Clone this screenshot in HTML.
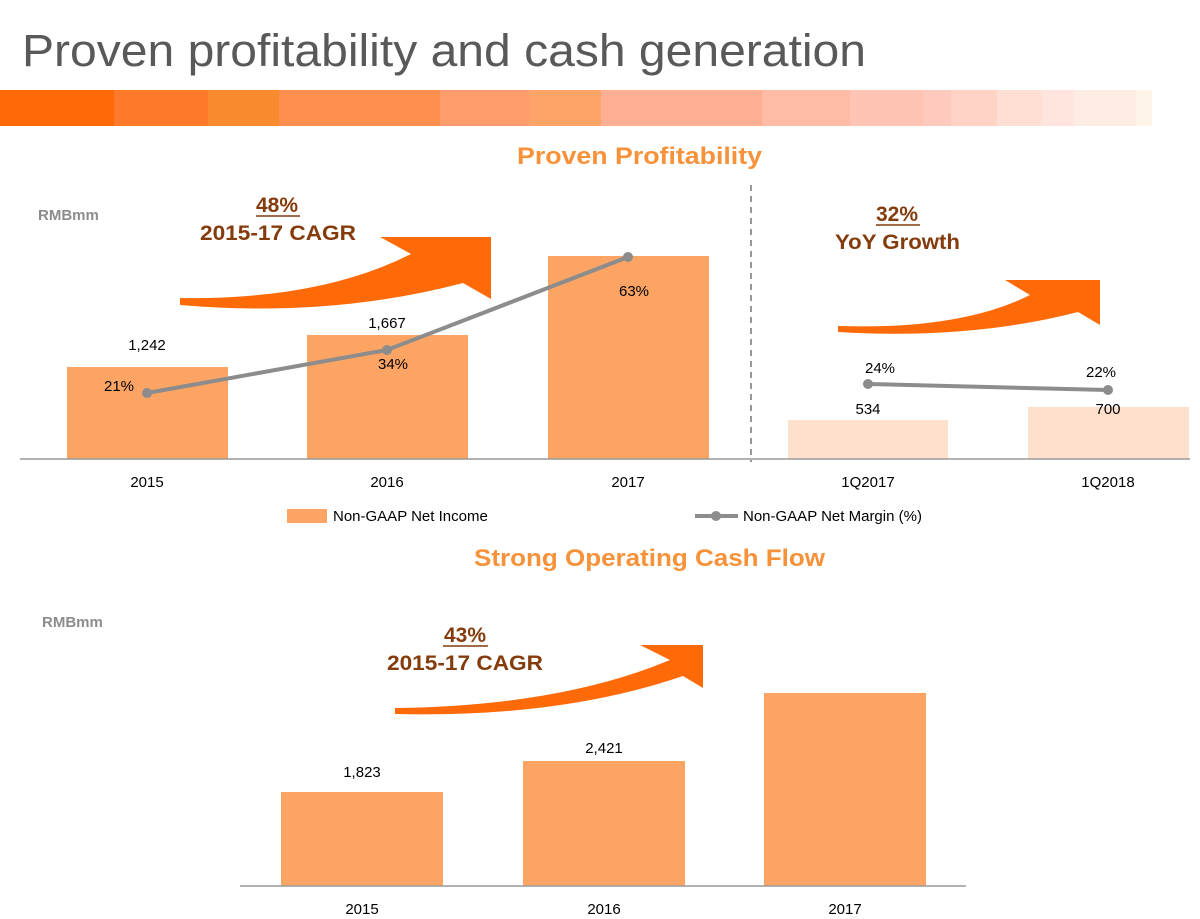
<!DOCTYPE html>
<html><head><style>
body{margin:0;background:#fff;}
svg{display:block;font-family:"Liberation Sans",sans-serif;}
</style></head><body>
<svg width="1200" height="919" viewBox="0 0 1200 919">
<text x="22" y="66" font-size="45" fill="#595959" textLength="844" lengthAdjust="spacingAndGlyphs">Proven profitability and cash generation</text>
<g>
<rect x="0" y="90" width="115" height="36" fill="#ff6a08"/>
<rect x="114" y="90" width="95" height="36" fill="#fe7a2a"/>
<rect x="208" y="90" width="72" height="36" fill="#f98a2e"/>
<rect x="279" y="90" width="162" height="36" fill="#ff8f4f"/>
<rect x="440" y="90" width="90" height="36" fill="#ff9c6c"/>
<rect x="529" y="90" width="73" height="36" fill="#fea468"/>
<rect x="601" y="90" width="162" height="36" fill="#ffaf91"/>
<rect x="762" y="90" width="89" height="36" fill="#ffbba5"/>
<rect x="850" y="90" width="74" height="36" fill="#ffc4b3"/>
<rect x="923" y="90" width="29" height="36" fill="#ffcabd"/>
<rect x="951" y="90" width="47" height="36" fill="#ffd4c7"/>
<rect x="997" y="90" width="46" height="36" fill="#ffdfd4"/>
<rect x="1042" y="90" width="33" height="36" fill="#ffe5dd"/>
<rect x="1074" y="90" width="63" height="36" fill="#feebe3"/>
<rect x="1136" y="90" width="16" height="36" fill="#fff4ea"/>
</g>
<text x="517" y="164" font-size="24" font-weight="bold" fill="#f7923a" textLength="245" lengthAdjust="spacingAndGlyphs">Proven Profitability</text>
<text x="38" y="220" font-size="15" font-weight="bold" fill="#8c8c8c">RMBmm</text>
<line x1="751" y1="185" x2="751" y2="462" stroke="#777" stroke-width="1.5" stroke-dasharray="6,5"/>
<path d="M180,298 Q320,300 411,254 L380,237 L491,237 L491,299 L463,283 Q330,318 180,305 Z" fill="#ff6a08"/>
<path d="M838,326 Q960,330 1030,295 L1005,280 L1100,280 L1100,325 L1078,312 Q970,340 838,332 Z" fill="#ff6a08"/>
<path d="M395,708 Q560,706 670,660 L640,645 L703,645 L703,688 L683,676 Q560,718 395,714 Z" fill="#ff6a08"/>
<g font-weight="bold" fill="#843c0c" font-size="21">
<text x="277" y="212" text-anchor="middle">48%</text><line x1="256" y1="216" x2="300" y2="216" stroke="#843c0c" stroke-width="1.5"/>
<text x="200" y="240" textLength="156" lengthAdjust="spacingAndGlyphs">2015-17 CAGR</text>
<text x="897" y="221" text-anchor="middle">32%</text><line x1="876" y1="225" x2="920" y2="225" stroke="#843c0c" stroke-width="1.5"/>
<text x="835" y="249" textLength="125" lengthAdjust="spacingAndGlyphs">YoY Growth</text>
<text x="465" y="642" text-anchor="middle">43%</text><line x1="443" y1="646" x2="488" y2="646" stroke="#843c0c" stroke-width="1.5"/>
<text x="387" y="670" textLength="156" lengthAdjust="spacingAndGlyphs">2015-17 CAGR</text>
</g>
<rect x="67" y="367" width="161" height="92" fill="#fca464"/>
<rect x="307" y="335" width="161" height="124" fill="#fca464"/>
<rect x="548" y="256" width="161" height="203" fill="#fca464"/>
<rect x="788" y="420" width="160" height="39" fill="#fde0cc"/>
<rect x="1028" y="407" width="161" height="52" fill="#fde0cc"/>
<line x1="20" y1="459" x2="1190" y2="459" stroke="#999" stroke-width="1.5"/>
<polyline points="147,393 387,350 628,257" fill="none" stroke="#8c8c8c" stroke-width="4"/>
<circle cx="147" cy="393" r="5" fill="#8c8c8c"/><circle cx="387" cy="350" r="5" fill="#8c8c8c"/><circle cx="628" cy="257" r="5" fill="#8c8c8c"/>
<polyline points="868,384 1108,390" fill="none" stroke="#8c8c8c" stroke-width="4"/>
<circle cx="868" cy="384" r="5" fill="#8c8c8c"/><circle cx="1108" cy="390" r="5" fill="#8c8c8c"/>
<g font-size="15" fill="#000" text-anchor="middle">
<text x="147" y="350">1,242</text>
<text x="387" y="328">1,667</text>
<text x="119" y="391">21%</text>
<text x="393" y="369">34%</text>
<text x="634" y="296">63%</text>
<text x="880" y="373">24%</text>
<text x="868" y="414">534</text>
<text x="1101" y="377">22%</text>
<text x="1108" y="414">700</text>
<text x="147" y="487">2015</text>
<text x="387" y="487">2016</text>
<text x="628" y="487">2017</text>
<text x="868" y="487">1Q2017</text>
<text x="1108" y="487">1Q2018</text>
</g>
<rect x="287" y="509" width="40" height="14" fill="#fca464"/>
<text x="333" y="521" font-size="15">Non-GAAP Net Income</text>
<line x1="695" y1="516" x2="738" y2="516" stroke="#8c8c8c" stroke-width="4"/>
<circle cx="716" cy="516" r="5" fill="#8c8c8c"/>
<text x="743" y="521" font-size="15">Non-GAAP Net Margin (%)</text>
<text x="474" y="566" font-size="24" font-weight="bold" fill="#f7923a" textLength="351" lengthAdjust="spacingAndGlyphs">Strong Operating Cash Flow</text>
<text x="42" y="627" font-size="15" font-weight="bold" fill="#8c8c8c">RMBmm</text>
<rect x="281" y="792" width="162" height="94" fill="#fca464"/>
<rect x="523" y="761" width="162" height="125" fill="#fca464"/>
<rect x="764" y="693" width="162" height="193" fill="#fca464"/>
<line x1="240" y1="886" x2="966" y2="886" stroke="#999" stroke-width="1.5"/>
<g font-size="15" text-anchor="middle">
<text x="362" y="777">1,823</text>
<text x="604" y="753">2,421</text>
<text x="362" y="914">2015</text>
<text x="604" y="914">2016</text>
<text x="845" y="914">2017</text>
</g>
</svg>
</body></html>
